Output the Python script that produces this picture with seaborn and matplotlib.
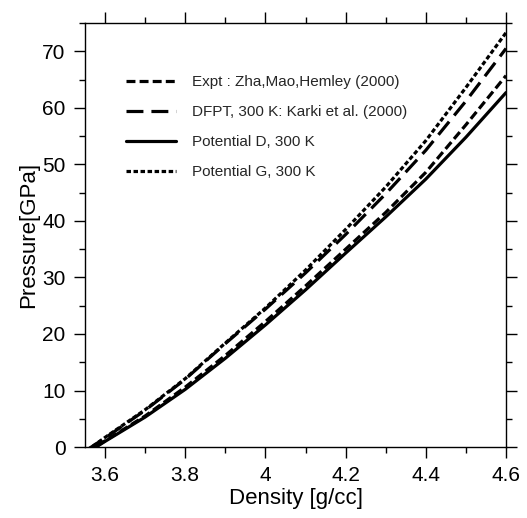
import numpy as np
import pandas as pd
import matplotlib
matplotlib.use("Agg")
import matplotlib.pyplot as plt
import seaborn as sns
from matplotlib.ticker import MultipleLocator

# values
density = [3.555, 3.6, 3.7, 3.8, 3.9, 4.0, 4.1, 4.2, 4.3, 4.4, 4.5, 4.6]
expt = [-1.0, 1.1, 5.5, 10.6, 16.2, 22.2, 28.5, 35.0, 41.5, 48.6, 57.0, 65.7]
dfpt = [-0.5, 1.6, 6.5, 12.0, 18.3, 24.4, 30.8, 37.6, 44.8, 52.5, 61.2, 70.5]
pot_d = [-1.0, 1.0, 5.3, 10.2, 15.7, 21.6, 27.8, 34.3, 40.7, 47.4, 54.8, 62.7]
pot_g = [-0.6, 1.7, 6.6, 12.1, 18.4, 24.6, 31.3, 38.5, 46.0, 54.2, 63.6, 73.3]

labels = ["Expt : Zha,Mao,Hemley (2000)",
          "DFPT, 300 K: Karki et al. (2000)",
          "Potential D, 300 K",
          "Potential G, 300 K"]
x_ticklabels = ["3.6", "3.8", "4", "4.2", "4.4", "4.6"]

sns.set_theme(style="ticks")
plt.rcParams["font.family"] = ["Liberation Sans", "DejaVu Sans"]

fig = plt.figure(figsize=(5.27, 5.18), dpi=100)
ax = fig.add_axes([0.1613, 0.137, 0.7989, 0.8185])

styles = [(0, (2.8, 1.3)), (0, (5.3, 2.5)), "-", (0, (1.4, 0.8))]
series = [expt, dfpt, pot_d, pot_g]

for vals, lab, ls in zip(series, labels, styles):
    sns.lineplot(x=density, y=vals, ax=ax, color="black", linestyle=ls,
                 linewidth=2.3, label=lab)

ax.set_xlim(3.55, 4.6)
ax.set_ylim(0, 75)
ax.set_xticks([3.6, 3.8, 4.0, 4.2, 4.4, 4.6])
ax.set_xticklabels(x_ticklabels)
ax.xaxis.set_minor_locator(MultipleLocator(0.1))
ax.yaxis.set_major_locator(MultipleLocator(10))
ax.yaxis.set_minor_locator(MultipleLocator(5))
ax.tick_params(which="both", direction="out", top=True, right=True,
               colors="black", width=1, labelsize=15, pad=6)
ax.tick_params(which="major", length=8)
ax.tick_params(which="minor", length=4.5)
for sp in ax.spines.values():
    sp.set_color("black")
    sp.set_linewidth(1)

ax.set_xlabel("Density [g/cc]", fontsize=16, color="black", labelpad=2)
ax.set_ylabel("Pressure[GPa]", fontsize=16, color="black", labelpad=2)

leg = ax.legend(loc="upper left", bbox_to_anchor=(0.083, 0.892),
                borderaxespad=0, frameon=False, fontsize=11,
                handlelength=3.3, handletextpad=1.0, labelspacing=1.05)

fig.savefig("out.png", dpi=100)
